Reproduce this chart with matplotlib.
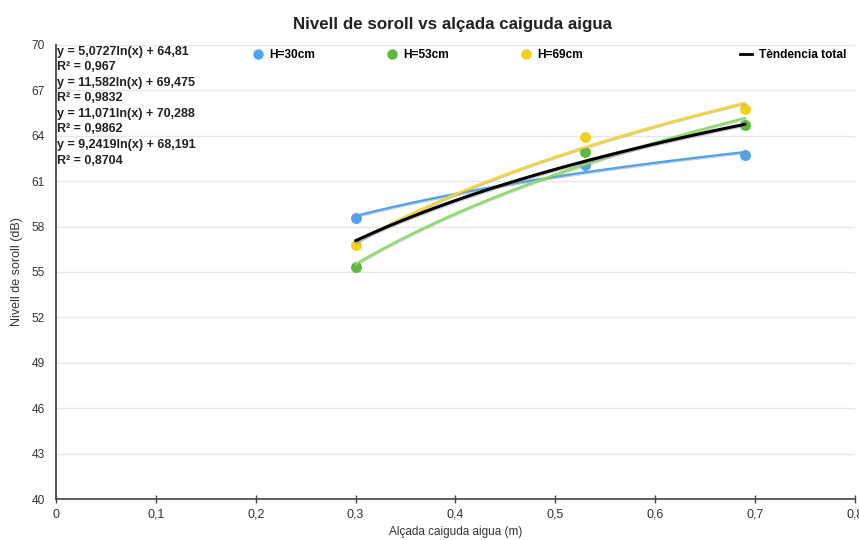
import matplotlib.pyplot as plt
import matplotlib.patheffects as pe
from matplotlib.lines import Line2D
import numpy as np

plt.rcParams["font.family"] = ["Liberation Sans", "DejaVu Sans"]

# measured points
heights = [0.3, 0.53, 0.69]
h30 = [58.6, 62.1, 62.7]
h53 = [55.3, 62.9, 64.7]
h69 = [56.8, 63.9, 65.8]

# trendline coefficients shown on the chart: y = a*ln(x) + b
fit_a = [5.0727, 11.582, 11.071, 9.2419]
fit_b = [64.81, 69.475, 70.288, 68.191]
fit_r2 = ["0,967", "0,9832", "0,9862", "0,8704"]
fit_a_txt = ["5,0727", "11,582", "11,071", "9,2419"]
fit_b_txt = ["64,81", "69,475", "70,288", "68,191"]

labels = ["H=30cm", "H=53cm", "H=69cm"]
marker_colors = ["#4fa3ec", "#5db93b", "#f4d01e"]
line_colors = ["#4fa3ec", "#85e260", "#f6d72a", "#000000"]

x_ticks = [0, 0.1, 0.2, 0.3, 0.4, 0.5, 0.6, 0.7, 0.8]
y_ticks = [40, 43, 46, 49, 52, 55, 58, 61, 64, 67, 70]

fig = plt.figure(figsize=(8.59, 5.40), dpi=100)
ax = fig.add_axes([0.0652, 0.0759, 0.930, 0.8408])

for ys, c in zip([h30, h53, h69], marker_colors):
    ax.scatter(heights, ys, s=62, color=c, zorder=3, linewidths=0)

xs = np.linspace(min(heights), max(heights), 100)
shadow = [pe.SimpleLineShadow(offset=(0.6, -0.8), shadow_color="#999999", alpha=0.5), pe.Normal()]
for a, b, c in zip(fit_a, fit_b, line_colors):
    lw = 2.2 if c == "#000000" else 1.6
    ax.plot(xs, a * np.log(xs) + b, color=c, lw=lw, zorder=4, path_effects=shadow,
            solid_capstyle="round")

ax.set_xlim(0, 0.8)
ax.set_ylim(40, 70)
ax.set_xticks(x_ticks)
ax.set_xticklabels([("%g" % v).replace(".", ",") for v in x_ticks])
ax.set_yticks(y_ticks)
ax.tick_params(axis="x", direction="inout", length=6, width=1, color="#444444",
               labelsize=9, labelcolor="#333333", pad=4)
ax.tick_params(axis="y", length=0, labelsize=8.6, labelcolor="#333333", pad=8)
ax.grid(axis="y", color="#e6e6e6", lw=1)
ax.set_axisbelow(True)
for s in ["top", "right"]:
    ax.spines[s].set_visible(False)
ax.spines["left"].set_color("#555555")
ax.spines["left"].set_linewidth(1.4)
ax.spines["bottom"].set_color("#444444")
ax.spines["bottom"].set_linewidth(1.2)

ax.set_xlabel("Alçada caiguda aigua (m)", fontsize=8.5, color="#333333", labelpad=4)
ax.set_ylabel("Nivell de soroll (dB)", fontsize=9, color="#333333", labelpad=6)
fig.suptitle("Nivell de soroll vs alçada caiguda aigua", x=0.527, y=0.968,
             fontsize=12.2, fontweight="bold", color="#222222")

# equation block
eq_lines = []
for at, bt, r2 in zip(fit_a_txt, fit_b_txt, fit_r2):
    eq_lines.append("y = %sln(x) + %s" % (at, bt))
    eq_lines.append("R² = %s" % r2)
for i, t in enumerate(eq_lines):
    fig.text(0.0665, 1 - (51.5 + i * 15.6) / 540, t, fontsize=9, fontweight="bold",
             color="#222222", va="center", ha="left")

handles = [Line2D([], [], marker="o", ls="", color=c, markersize=6.5) for c in marker_colors]
leg = ax.legend(handles, labels, loc="center left", bbox_to_anchor=(0.232, 0.977),
                ncol=3, frameon=False, columnspacing=6.0, handletextpad=0.4,
                handlelength=1.0, prop={"size": 8.6, "weight": "bold"})
ax.add_artist(leg)
ax.legend([Line2D([], [], color="black", lw=2)], ["Tèndencia total"], loc="center right",
          bbox_to_anchor=(1.003, 0.977), frameon=False, handlelength=1.0, handletextpad=0.6,
          prop={"size": 8.6, "weight": "bold"})

fig.savefig("out.png", dpi=100)
